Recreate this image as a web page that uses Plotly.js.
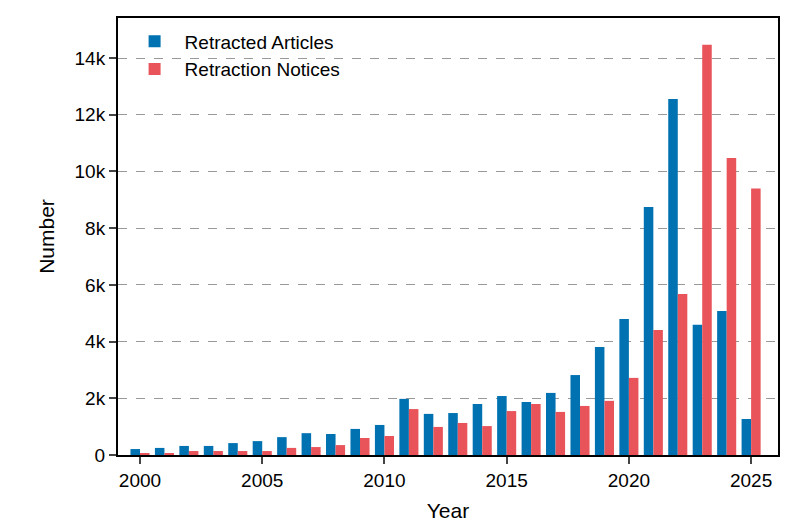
<!DOCTYPE html>
<html>
<head>
<script src="https://cdn.plot.ly/plotly-3.0.1.min.js"></script>
<style>body{margin:0}#chart{width:797px;height:532px}</style>
</head>
<body>
<div id="chart"></div>
<script>
const years = [2000,2001,2002,2003,2004,2005,2006,2007,2008,2009,2010,2011,2012,2013,2014,2015,2016,2017,2018,2019,2020,2021,2022,2023,2024,2025];
const retractedArticles = [210,250,320,320,420,490,630,770,740,920,1060,1980,1450,1480,1800,2080,1870,2190,2820,3810,4800,8750,12560,4590,5080,1270];
const retractionNotices = [70,70,140,140,140,140,250,280,350,600,670,1620,990,1130,1020,1550,1800,1520,1730,1910,2720,4410,5680,14470,10480,9400];

const traces = [
  {type:'bar', name:'Retracted Articles', x:years, y:retractedArticles, marker:{color:'#0072b2'}},
  {type:'bar', name:'Retraction Notices', x:years, y:retractionNotices, marker:{color:'#e8545a'}}
];

const layout = {
  width:797, height:532,
  margin:{l:118, r:19, t:18, b:77},
  barmode:'group', bargap:0.22, bargroupgap:0,
  font:{family:'Liberation Sans, Arial, sans-serif', size:19, color:'#000'},
  plot_bgcolor:'#fff', paper_bgcolor:'#fff',
  showlegend:true,
  legend:{x:0.01, y:0.99, xanchor:'left', yanchor:'top', bgcolor:'rgba(0,0,0,0)', font:{size:19}, itemwidth:50},
  xaxis:{
    range:[1999.1, 2026.1], tickvals:[2000,2005,2010,2015,2020,2025],
    ticks:'outside', ticklen:7, tickwidth:2, showline:true, linewidth:2, linecolor:'#000',
    mirror:true, showgrid:false, zeroline:false,
    title:{text:'Year', font:{size:21}, standoff:14}
  },
  yaxis:{
    range:[0, 15414], tickvals:[0,2000,4000,6000,8000,10000,12000,14000],
    ticktext:['0','2k','4k','6k','8k','10k','12k','14k'],
    ticks:'outside', ticklen:7, tickwidth:2, showline:true, linewidth:2, linecolor:'#000',
    mirror:true, showgrid:true, gridcolor:'#999', griddash:'dash', gridwidth:1.4, zeroline:false,
    title:{text:'Number', font:{size:21}, standoff:14}
  }
};

Plotly.newPlot('chart', traces, layout, {displayModeBar:false});
</script>
</body>
</html>
